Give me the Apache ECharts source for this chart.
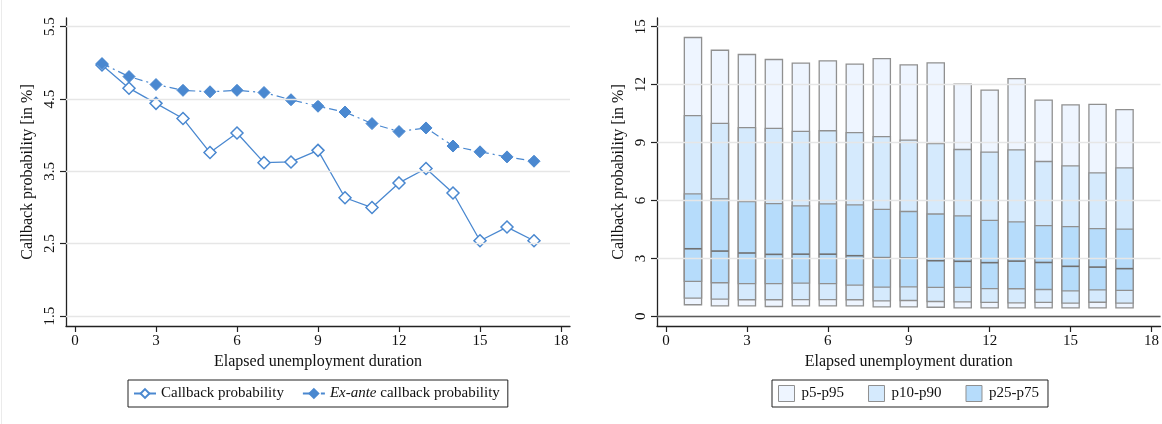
<!DOCTYPE html>
<html>
<head>
<meta charset="utf-8">
<script src="https://cdn.jsdelivr.net/npm/echarts@6/dist/echarts.min.js"></script>
<style>
  html, body { margin: 0; padding: 0; background: #fff; }
  #chart { width: 1162px; height: 424px; }
</style>
</head>
<body>
<div id="chart"></div>
<script>
// Elapsed unemployment duration (months)
const durations = [1, 2, 3, 4, 5, 6, 7, 8, 9, 10, 11, 12, 13, 14, 15, 16, 17];

// Left panel: callback probabilities [in %]
const callbackProb = [4.97, 4.65, 4.44, 4.23, 3.76, 4.03, 3.62, 3.63, 3.79, 3.135, 3.00, 3.34, 3.54, 3.20, 2.54, 2.73, 2.54];
const exAnteProb   = [4.99, 4.81, 4.70, 4.62, 4.60, 4.62, 4.59, 4.49, 4.40, 4.32, 4.16, 4.05, 4.10, 3.85, 3.77, 3.70, 3.64];

// Right panel: percentiles of the ex-ante callback probability [in %]
const p5  = [0.60, 0.54, 0.54, 0.51, 0.54, 0.54, 0.54, 0.49, 0.49, 0.47, 0.44, 0.44, 0.44, 0.44, 0.44, 0.44, 0.44];
const p10 = [0.94, 0.89, 0.86, 0.86, 0.87, 0.87, 0.86, 0.80, 0.82, 0.77, 0.75, 0.72, 0.70, 0.72, 0.68, 0.73, 0.68];
const p25 = [1.81, 1.74, 1.69, 1.69, 1.72, 1.69, 1.62, 1.51, 1.53, 1.50, 1.50, 1.44, 1.43, 1.39, 1.32, 1.37, 1.34];
const p50 = [3.50, 3.38, 3.28, 3.21, 3.22, 3.22, 3.14, 3.04, 3.02, 2.88, 2.85, 2.78, 2.86, 2.79, 2.59, 2.55, 2.47];
const p75 = [6.34, 6.08, 5.94, 5.84, 5.72, 5.82, 5.77, 5.54, 5.43, 5.30, 5.20, 4.97, 4.89, 4.70, 4.65, 4.54, 4.52];
const p90 = [10.39, 9.99, 9.77, 9.73, 9.58, 9.61, 9.51, 9.31, 9.13, 8.94, 8.64, 8.50, 8.62, 8.02, 7.79, 7.43, 7.69];
const p95 = [14.44, 13.78, 13.56, 13.30, 13.11, 13.23, 13.06, 13.35, 13.02, 13.13, 12.02, 11.71, 12.31, 11.20, 10.95, 10.98, 10.70];

// Tick labels
const xTicks = [0, 3, 6, 9, 12, 15, 18];
const yTicksLeft = [1.5, 2.5, 3.5, 4.5, 5.5];
const yTicksRight = [0, 3, 6, 9, 12, 15];

const FONT = '"Liberation Serif", "DejaVu Serif", serif';
const BLUE = '#4a88d0';
const BOX_BORDER = '#909090';
const bandColors = { 'p5-p95': '#eef5ff', 'p10-p90': '#d5eafd', 'p25-p75': '#b6dcfb' };
const BAR_W = 0.64; // box width in x units

const chart = echarts.init(document.getElementById('chart'), null, { renderer: 'canvas' });

function xAxisOf(gridIndex) {
  return {
    type: 'value', gridIndex: gridIndex,
    min: -1 / 3, max: 18 + 1 / 3,
    name: 'Elapsed unemployment duration', nameLocation: 'middle', nameGap: 27,
    nameTextStyle: { fontFamily: FONT, fontSize: 16, color: '#111' },
    axisLine: { show: true, onZero: false, lineStyle: { color: '#222', width: 1.3 } },
    axisTick: { show: true, length: 6, customValues: xTicks, lineStyle: { color: '#222', width: 1.2 } },
    axisLabel: { customValues: xTicks, fontFamily: FONT, fontSize: 15, color: '#111', margin: 8 },
    splitLine: { show: false }
  };
}

function yAxisOf(gridIndex, min, max, ticks) {
  return {
    type: 'value', gridIndex: gridIndex, min: min, max: max,
    name: 'Callback probability [in %]', nameLocation: 'middle', nameGap: 30,
    nameTextStyle: { fontFamily: FONT, fontSize: 16, color: '#111' },
    axisLine: { show: true, onZero: false, lineStyle: { color: '#222', width: 1.3 } },
    axisTick: { show: true, length: 6, customValues: ticks, lineStyle: { color: '#222', width: 1.2 } },
    axisLabel: { customValues: ticks, rotate: 90, fontFamily: FONT, fontSize: 15, color: '#111', margin: 8 },
    splitLine: { show: false }
  };
}

// horizontal gridlines at the tick values, drawn behind the data
function gridLines(xi, yi, ticks) {
  return {
    type: 'line', xAxisIndex: xi, yAxisIndex: yi, data: [], z: 1, silent: true,
    markLine: {
      silent: true, symbol: 'none', animation: false,
      label: { show: false },
      lineStyle: { color: '#e6e6e6', width: 1.3, type: 'solid' },
      data: ticks.map(v => ({ yAxis: v }))
    }
  };
}

function bandSeries(name, lo, hi) {
  return {
    type: 'custom', name: name, xAxisIndex: 1, yAxisIndex: 1, z: 3,
    itemStyle: { color: bandColors[name], borderColor: BOX_BORDER },
    data: durations.map((d, i) => [d, lo[i], hi[i]]),
    encode: { x: 0, y: [1, 2] },
    renderItem: function (params, api) {
      const x = api.value(0);
      const top = api.coord([x, api.value(2)]);
      const bot = api.coord([x, api.value(1)]);
      const w = api.size([BAR_W, 0])[0];
      return {
        type: 'rect',
        shape: { x: top[0] - w / 2, y: top[1], width: w, height: bot[1] - top[1] },
        style: { fill: bandColors[name], stroke: BOX_BORDER, lineWidth: 1.3 }
      };
    }
  };
}

const medianSeries = {
  type: 'custom', name: 'median', xAxisIndex: 1, yAxisIndex: 1, z: 4,
  data: durations.map((d, i) => [d, p50[i]]),
  encode: { x: 0, y: 1 },
  renderItem: function (params, api) {
    const x = api.value(0);
    const c = api.coord([x, api.value(1)]);
    const w = api.size([BAR_W, 0])[0];
    return {
      type: 'line',
      shape: { x1: c[0] - w / 2, y1: c[1], x2: c[0] + w / 2, y2: c[1] },
      style: { stroke: '#707070', lineWidth: 1.6 }
    };
  }
};

const option = {
  backgroundColor: '#ffffff',
  animation: false,
  textStyle: { fontFamily: FONT },
  grid: [
    { left: 66, top: 18, width: 504, height: 308 },
    { left: 657, top: 18, width: 504, height: 308 }
  ],
  xAxis: [xAxisOf(0), xAxisOf(1)],
  yAxis: [
    yAxisOf(0, 1.362, 5.62, yTicksLeft),
    yAxisOf(1, -0.5, 15.45, yTicksRight)
  ],
  legend: [
    {
      left: 128, top: 380,
      data: ['Callback probability', 'Ex-ante callback probability'],
      borderColor: '#222', borderWidth: 1, borderRadius: 0,
      padding: [6, 8, 6, 5], itemGap: 18, itemWidth: 22, itemHeight: 11,
      textStyle: {
        fontFamily: FONT, fontSize: 15, color: '#111',
        rich: { i: { fontFamily: FONT, fontSize: 15, fontStyle: 'italic', color: '#111' } }
      },
      formatter: function (name) {
        return name === 'Ex-ante callback probability' ? '{i|Ex-ante} callback probability' : name;
      }
    },
    {
      left: 772, top: 380,
      data: ['p5-p95', 'p10-p90', 'p25-p75'].map(n => ({
        name: n, icon: 'rect',
        itemStyle: { color: bandColors[n], borderColor: BOX_BORDER, borderWidth: 1 }
      })),
      borderColor: '#222', borderWidth: 1, borderRadius: 0,
      padding: [5, 9, 5, 6], itemGap: 24, itemWidth: 16, itemHeight: 16,
      textStyle: { fontFamily: FONT, fontSize: 15, color: '#111', padding: [0, 0, 0, 2] }
    }
  ],
  graphic: [
    { type: 'line', shape: { x1: 1.5, y1: 0, x2: 1.5, y2: 424 }, style: { stroke: '#ebebeb', lineWidth: 1 }, silent: true }
  ],
  series: [
    gridLines(0, 0, yTicksLeft),
    gridLines(1, 1, yTicksRight),
    {
      name: 'Callback probability', type: 'line', xAxisIndex: 0, yAxisIndex: 0, z: 3,
      data: durations.map((d, i) => [d, callbackProb[i]]),
      symbol: 'diamond', symbolSize: 12,
      lineStyle: { color: BLUE, width: 1.3 },
      itemStyle: { color: '#ffffff', borderColor: BLUE, borderWidth: 1.5 }
    },
    {
      name: 'Ex-ante callback probability', type: 'line', xAxisIndex: 0, yAxisIndex: 0, z: 4,
      data: durations.map((d, i) => [d, exAnteProb[i]]),
      symbol: 'diamond', symbolSize: 12,
      lineStyle: { color: BLUE, width: 1.2, type: [8, 4, 2, 4] },
      itemStyle: { color: BLUE, borderColor: BLUE, borderWidth: 1 }
    },
    Object.assign(bandSeries('p5-p95', p5, p95), {
      markLine: {
        silent: true, symbol: 'none', animation: false, label: { show: false },
        lineStyle: { color: '#5a5a5a', width: 1.3, type: 'solid' },
        data: [{ yAxis: 0 }]
      }
    }),
    bandSeries('p10-p90', p10, p90),
    bandSeries('p25-p75', p25, p75),
    medianSeries
  ]
};

chart.setOption(option);
</script>
</body>
</html>
